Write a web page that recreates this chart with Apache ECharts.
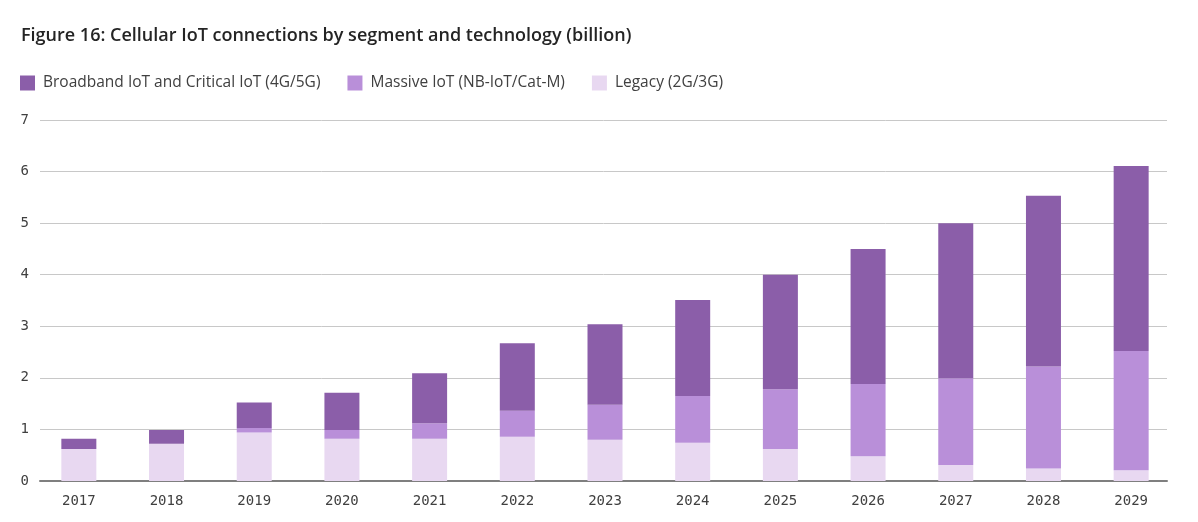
<!DOCTYPE html>
<html>
<head>
<meta charset="utf-8">
<script src="https://cdn.jsdelivr.net/npm/echarts@6/dist/echarts.min.js"></script>
<style>
html,body{margin:0;padding:0;background:#fff;}
#chart{width:1198px;height:522px;}
</style>
</head>
<body>
<div id="chart"></div>
<script>
const titleText = 'Figure 16: Cellular IoT connections by segment and technology (billion)';
const categories = ['2017','2018','2019','2020','2021','2022','2023','2024','2025','2026','2027','2028','2029'];
const seriesNames = ['Broadband IoT and Critical IoT (4G/5G)', 'Massive IoT (NB-IoT/Cat-M)', 'Legacy (2G/3G)'];
const legacy    = [0.62, 0.72, 0.94, 0.82, 0.82, 0.86, 0.80, 0.74, 0.62, 0.48, 0.31, 0.24, 0.21];
const massive   = [0.00, 0.00, 0.09, 0.17, 0.30, 0.50, 0.68, 0.91, 1.16, 1.40, 1.68, 1.98, 2.31];
const broadband = [0.20, 0.27, 0.49, 0.72, 0.97, 1.31, 1.56, 1.86, 2.22, 2.62, 3.01, 3.31, 3.59];
const yTicks = [0, 1, 2, 3, 4, 5, 6, 7];

const colors = { broadband: '#8b5ea9', massive: '#b98fd9', legacy: '#e8d8f1' };

const chart = echarts.init(document.getElementById('chart'));
const gridTop = 120, gridBottom = 41;
chart.setOption({
  animation: false,
  backgroundColor: '#ffffff',
  title: {
    text: titleText,
    left: 16, top: 22,
    textStyle: { fontFamily: 'Open Sans', fontSize: 18, fontWeight: 600, color: '#242424' }
  },
  legend: {
    left: 15, top: 70,
    itemWidth: 15, itemHeight: 15, itemGap: 27,
    icon: 'rect',
    data: seriesNames.map(n => ({ name: n })),
    textStyle: { fontFamily: 'Open Sans', fontSize: 15.5, color: '#404040', padding: [0, 0, 0, 3] }
  },
  grid: [
    { left: 40, right: 31, top: gridTop, bottom: gridBottom },
    { left: 35, right: 23, top: gridTop, bottom: gridBottom }
  ],
  xAxis: [
    {
      type: 'category', gridIndex: 0, data: categories,
      axisLine: { show: true, lineStyle: { color: '#7f7f7f', width: 2 } },
      axisTick: { show: false }, axisLabel: { show: false }, splitLine: { show: false }
    },
    {
      type: 'category', gridIndex: 1, data: categories,
      axisLine: { show: false }, axisTick: { show: false },
      axisLabel: { margin: 13, fontFamily: 'DejaVu Sans Mono', fontSize: 14, color: '#404040' }
    }
  ],
  yAxis: [
    {
      type: 'value', gridIndex: 0, min: yTicks[0], max: yTicks[yTicks.length - 1], interval: 1,
      axisLine: { show: false }, axisTick: { show: false },
      axisLabel: { margin: 11, fontFamily: 'DejaVu Sans Mono', fontSize: 14, color: '#404040' },
      splitLine: { show: true, lineStyle: { color: '#c8c8c8', width: 1 } }
    },
    {
      type: 'value', gridIndex: 1, min: yTicks[0], max: yTicks[yTicks.length - 1], interval: 1,
      show: false, splitLine: { show: false }
    }
  ],
  series: [
    { name: seriesNames[2], type: 'bar', stack: 'total', xAxisIndex: 1, yAxisIndex: 1, barWidth: 35,
      itemStyle: { color: colors.legacy }, data: legacy, z: 3 },
    { name: seriesNames[1], type: 'bar', stack: 'total', xAxisIndex: 1, yAxisIndex: 1, barWidth: 35,
      itemStyle: { color: colors.massive }, data: massive, z: 3 },
    { name: seriesNames[0], type: 'bar', stack: 'total', xAxisIndex: 1, yAxisIndex: 1, barWidth: 35,
      itemStyle: { color: colors.broadband }, data: broadband, z: 3 }
  ]
});
</script>
</body>
</html>
